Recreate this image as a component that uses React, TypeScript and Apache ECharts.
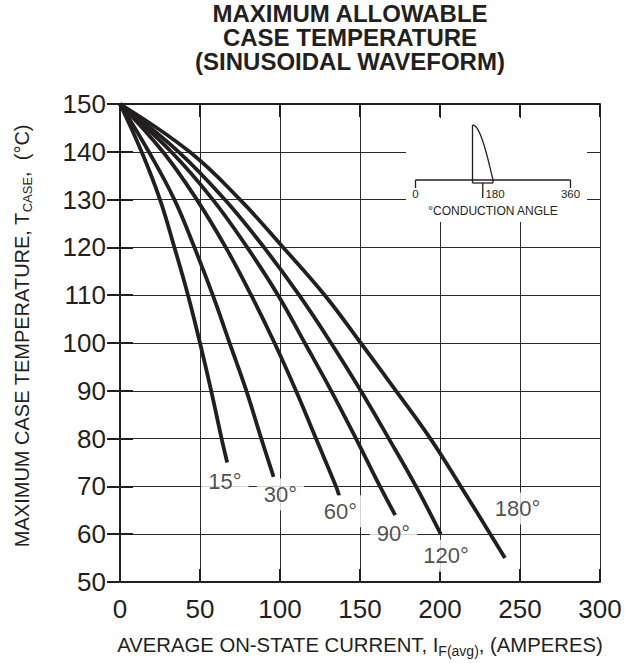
import React, { useEffect, useRef } from 'react';
import * as echarts from 'echarts';

const FONT = '"Liberation Sans", Arial, Helvetica, sans-serif';
const INK = '#231f20';

// Axis ranges / ticks
const xMin = 0, xMax = 300, xStep = 50;
const yMin = 50, yMax = 150, yStep = 10;

// Curves: conduction angle -> (average current A, case temperature °C)
const curveNames = ['15°', '30°', '60°', '90°', '120°', '180°'];
const temps15 = [150, 140, 130, 120, 110, 100, 90, 80, 75];
const amps15 = [0, 13.5, 25, 34, 42.5, 50, 57, 63.5, 67];
const temps30 = [150, 140, 130, 120, 110, 100, 90, 80, 72];
const amps30 = [0, 18, 34, 46.5, 58, 68.5, 79, 88.3, 96];
const temps60 = [150, 140, 130, 120, 110, 100, 90, 80, 70, 68];
const amps60 = [0, 26.8, 48, 66.1, 82, 96.6, 110, 122.5, 135, 137];
const temps90 = [150, 140, 130, 120, 110, 100, 90, 80, 70, 64];
const amps90 = [0, 32, 58, 79.5, 98.8, 115.5, 132, 147.5, 162.5, 172];
const temps120 = [150, 140, 130, 120, 110, 100, 90, 80, 70, 60];
const amps120 = [0, 36.6, 65.5, 90, 112, 131.9, 150.5, 168, 185, 200.5];
const temps180 = [150, 140, 130, 120, 110, 100, 90, 80, 70, 60, 55];
const amps180 = [0, 43.5, 75, 102, 128, 150.5, 172.5, 194, 213, 231.5, 240.6];

// Curve label anchor positions (data units)
const labelAmps = [65.6, 100.3, 137.8, 170.9, 203.8, 248.4];
const labelTemps = [71.0, 68.3, 64.8, 60.2, 55.5, 65.4];

// Inset
const insetTickLabels = ['0', '180', '360'];
const insetCaption = '°CONDUCTION ANGLE';
const titleLines = ['MAXIMUM ALLOWABLE', 'CASE TEMPERATURE', '(SINUSOIDAL WAVEFORM)'];

const zip = (xs: number[], ys: number[]) => xs.map((x, i) => [x, ys[i]]);

export default function App() {
  const ref = useRef<HTMLDivElement>(null);

  useEffect(() => {
    if (!ref.current) return;
    const chart = echarts.init(ref.current, undefined, { renderer: 'svg' });

    const curves = [
      zip(amps15, temps15),
      zip(amps30, temps30),
      zip(amps60, temps60),
      zip(amps90, temps90),
      zip(amps120, temps120),
      zip(amps180, temps180),
    ];

    // Inset geometry (decorative diagram)
    const ax0 = 415.5, ax1 = 570.5, axY = 180;
    const axMid = (ax0 + ax1) / 2;
    const wStart = 472.5, wEnd = axMid, wTop = 125;
    const wavePts: number[][] = [];
    for (let i = 0; i <= 20; i++) {
      const t = i / 20;
      wavePts.push([wStart + t * (wEnd - wStart), axY - (axY - wTop) * Math.cos((t * Math.PI) / 2)]);
    }
    const lineStyle = { stroke: INK, lineWidth: 1.3 };

    const axisCommon = {
      type: 'value' as const,
      axisLine: { show: true, lineStyle: { color: INK, width: 2 } },
      axisTick: { show: true, inside: true, length: 13, lineStyle: { color: INK, width: 2 } },
    };

    chart.setOption({
      animation: false,
      backgroundColor: '#fff',
      title: {
        text: titleLines.join('\n'),
        left: 350,
        top: 1,
        padding: 0,
        textAlign: 'center',
        textStyle: { fontFamily: FONT, fontSize: 24, fontWeight: 'bold', lineHeight: 24, color: INK },
      },
      grid: { left: 120, right: 29, top: 104, bottom: 79 },
      xAxis: [
        {
          ...axisCommon,
          min: xMin, max: xMax, interval: xStep,
          position: 'bottom',
          axisLabel: { fontFamily: FONT, fontSize: 26, color: INK, margin: 14 },
          splitLine: { show: true, lineStyle: { color: '#2a2a2a', width: 1 } },
          name: 'AVERAGE ON-STATE CURRENT, I{sub|F(avg)}, (AMPERES)',
          nameLocation: 'middle',
          nameGap: 50,
          nameTextStyle: {
            fontFamily: FONT, fontSize: 20.3, color: INK,
            rich: { sub: { fontFamily: FONT, fontSize: 14, color: INK, padding: [12, 0, 0, 0] } },
          },
        },
        {
          ...axisCommon,
          min: xMin, max: xMax, interval: xStep,
          position: 'top',
          axisLabel: { show: false },
          splitLine: { show: false },
        },
      ],
      yAxis: [
        {
          ...axisCommon,
          min: yMin, max: yMax, interval: yStep,
          position: 'left',
          axisLabel: { fontFamily: FONT, fontSize: 26, color: INK, margin: 14 },
          splitLine: { show: true, lineStyle: { color: '#2a2a2a', width: 1 } },
        },
        {
          ...axisCommon,
          min: yMin, max: yMax, interval: yStep,
          position: 'right',
          axisLabel: { show: false },
          splitLine: { show: false },
        },
      ],
      series: [
        ...curves.map((d, i) => ({
          type: 'line',
          name: curveNames[i],
          data: d,
          smooth: 0.4,
          showSymbol: false,
          z: 3,
          lineStyle: { color: INK, width: 3.8 },
        })),
        {
          type: 'scatter',
          name: 'labels',
          symbolSize: 1,
          itemStyle: { color: 'rgba(0,0,0,0)' },
          z: 5,
          data: labelAmps.map((a, i) => ({ value: [a, labelTemps[i]], name: curveNames[i] })),
          label: {
            show: true,
            position: 'inside',
            formatter: (p: any) => p.name,
            fontFamily: FONT,
            fontSize: 22,
            color: INK,
            backgroundColor: '#fff',
            padding: [5, 7],
          },
        },
      ],
      graphic: [
        { type: 'rect', z: 100, shape: { x: 406, y: 118, width: 181, height: 104 }, style: { fill: '#fff' } },
        { type: 'line', z: 101, shape: { x1: ax0, y1: axY, x2: ax1, y2: axY }, style: lineStyle },
        { type: 'line', z: 101, shape: { x1: ax0, y1: axY, x2: ax0, y2: axY + 8 }, style: lineStyle },
        { type: 'line', z: 101, shape: { x1: ax1, y1: axY, x2: ax1, y2: axY + 8 }, style: lineStyle },
        { type: 'line', z: 101, shape: { x1: wStart, y1: axY + 3, x2: wStart, y2: wTop }, style: lineStyle },
        { type: 'polyline', z: 101, shape: { points: wavePts }, style: { ...lineStyle, fill: 'none' } },
        { type: 'line', z: 101, shape: { x1: wStart, y1: axY + 3, x2: wEnd, y2: axY + 3 }, style: lineStyle },
        { type: 'line', z: 101, shape: { x1: wEnd, y1: axY, x2: wEnd, y2: axY + 3 }, style: lineStyle },
        { type: 'line', z: 101, shape: { x1: (wStart + wEnd) / 2, y1: axY + 3, x2: (wStart + wEnd) / 2, y2: axY + 18 }, style: lineStyle },
        ...insetTickLabels.map((t, i) => ({
          type: 'text',
          z: 101,
          x: [ax0, axMid + 2, ax1][i],
          y: 194,
          style: {
            text: t, fill: INK, fontFamily: FONT, fontSize: 11.5,
            align: 'center', verticalAlign: 'middle', textAlign: 'center', textVerticalAlign: 'middle',
          },
        })),
        {
          type: 'text', z: 101, x: axMid, y: 211,
          style: {
            text: insetCaption, fill: INK, fontFamily: FONT, fontSize: 12,
            align: 'center', verticalAlign: 'middle', textAlign: 'center', textVerticalAlign: 'middle',
          },
        },
        {
          type: 'text', z: 101, x: 22, y: 336, rotation: Math.PI / 2,
          style: {
            text: 'MAXIMUM CASE TEMPERATURE, T{sub|CASE},  (°C)',
            fill: INK, fontFamily: FONT, fontSize: 20,
            align: 'center', verticalAlign: 'middle', textAlign: 'center', textVerticalAlign: 'middle',
            rich: { sub: { fontFamily: FONT, fontSize: 13, fill: INK, padding: [10, 0, 0, 0] } },
          },
        },
      ],
    });

    return () => chart.dispose();
  }, []);

  return (
    <div
      ref={ref}
      style={{ position: 'fixed', left: 0, top: 0, width: 629, height: 663, background: '#fff' }}
    />
  );
}
